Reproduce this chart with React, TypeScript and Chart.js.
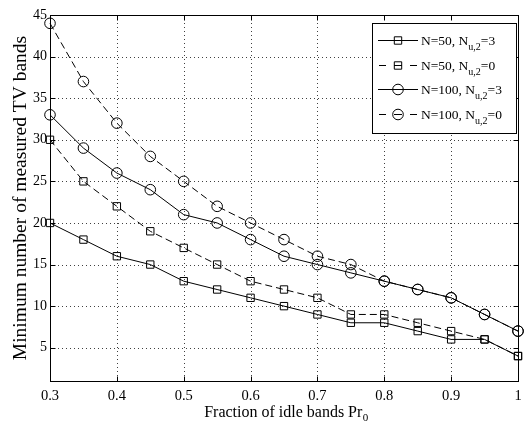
import React, { useEffect, useRef } from "react";
import { Chart, registerables } from "chart.js";

Chart.register(...registerables);

const xValues = [0.3, 0.35, 0.4, 0.45, 0.5, 0.55, 0.6, 0.65, 0.7, 0.75, 0.8, 0.85, 0.9, 0.95, 1];
const n50u3 = [20, 18, 16, 15, 13, 12, 11, 10, 9, 8, 8, 7, 6, 6, 4];
const n50u0 = [30, 25, 22, 19, 17, 15, 13, 12, 11, 9, 9, 8, 7, 6, 4];
const n100u3 = [33, 29, 26, 24, 21, 20, 18, 16, 15, 14, 13, 12, 11, 9, 7];
const n100u0 = [44, 37, 32, 28, 25, 22, 20, 18, 16, 15, 13, 12, 11, 9, 7];

const xTicks = [0.3, 0.4, 0.5, 0.6, 0.7, 0.8, 0.9, 1];
const yTicks = [5, 10, 15, 20, 25, 30, 35, 40, 45];

const seriesMain = ["N=50, N", "N=50, N", "N=100, N", "N=100, N"];
const seriesSub = ["u,2", "u,2", "u,2", "u,2"];
const seriesTail = ["=3", "=0", "=3", "=0"];
const seriesStyle = ["rect", "rect", "circle", "circle"];
const seriesDashed = [false, true, false, true];

const xTitle = "Fraction of idle bands Pr";
const xTitleSub = "0";
const yTitle = "Minimum number of measured TV bands";

const FONT = "'Liberation Serif', 'Times New Roman', serif";
const DASH = [7, 4];

function drawMarker(ctx: CanvasRenderingContext2D, style: string, x: number, y: number) {
  ctx.beginPath();
  if (style === "rect") {
    ctx.rect(x - 3.7, y - 3.7, 7.4, 7.4);
  } else {
    ctx.arc(x, y, 5.3, 0, Math.PI * 2);
  }
  ctx.stroke();
}

const framePlugin = {
  id: "frame",
  beforeDraw(chart: any) {
    const ctx = chart.ctx;
    ctx.save();
    ctx.fillStyle = "#fff";
    ctx.fillRect(0, 0, chart.width, chart.height);
    ctx.restore();
  },
  beforeDatasetsDraw(chart: any) {
    const { ctx, chartArea: a, scales } = chart;
    ctx.save();
    ctx.strokeStyle = "rgba(0,0,0,0.75)";
    ctx.lineWidth = 1;
    ctx.setLineDash([1, 3]);
    xTicks.forEach((v) => {
      const px = Math.round(scales.x.getPixelForValue(v)) + 0.5;
      ctx.beginPath();
      ctx.moveTo(px, a.top);
      ctx.lineTo(px, a.bottom);
      ctx.stroke();
    });
    yTicks.forEach((v) => {
      const py = Math.round(scales.y.getPixelForValue(v)) + 0.5;
      ctx.beginPath();
      ctx.moveTo(a.left, py);
      ctx.lineTo(a.right, py);
      ctx.stroke();
    });
    ctx.restore();
  },
  afterDraw(chart: any) {
    const { ctx, chartArea: a, scales } = chart;
    ctx.save();
    ctx.strokeStyle = "#000";
    ctx.lineWidth = 1;
    ctx.setLineDash([]);
    const L = Math.round(a.left) + 0.5;
    const R = Math.round(a.right) + 0.5;
    const T = Math.round(a.top) + 0.5;
    const B = Math.round(a.bottom) + 0.5;
    ctx.strokeRect(L, T, R - L, B - T);
    const tl = 5;
    xTicks.forEach((v) => {
      const px = Math.round(scales.x.getPixelForValue(v)) + 0.5;
      ctx.beginPath();
      ctx.moveTo(px, B);
      ctx.lineTo(px, B - tl);
      ctx.moveTo(px, T);
      ctx.lineTo(px, T + tl);
      ctx.stroke();
    });
    yTicks.forEach((v) => {
      const py = Math.round(scales.y.getPixelForValue(v)) + 0.5;
      ctx.beginPath();
      ctx.moveTo(L, py);
      ctx.lineTo(L + tl, py);
      ctx.moveTo(R, py);
      ctx.lineTo(R - tl, py);
      ctx.stroke();
    });

    // x title with subscript
    ctx.fillStyle = "#000";
    ctx.textBaseline = "alphabetic";
    ctx.textAlign = "left";
    ctx.font = `16px ${FONT}`;
    const w1 = ctx.measureText(xTitle).width;
    ctx.font = `11px ${FONT}`;
    const w2 = ctx.measureText(xTitleSub).width;
    const cx = (a.left + a.right) / 2 + 2;
    let sx = cx - (w1 + w2) / 2;
    ctx.font = `16px ${FONT}`;
    ctx.fillText(xTitle, sx, 417);
    ctx.font = `11px ${FONT}`;
    ctx.fillText(xTitleSub, sx + w1 + 0.5, 421);

    // y title
    ctx.save();
    ctx.translate(26, (a.top + a.bottom) / 2);
    ctx.rotate(-Math.PI / 2);
    ctx.font = `19.5px ${FONT}`;
    ctx.textAlign = "center";
    ctx.fillText(yTitle, 0, 0);
    ctx.restore();

    // legend
    const lx = 372.5, ly = 23.5, lw = 144, lh = 110;
    ctx.fillStyle = "#fff";
    ctx.fillRect(lx, ly, lw, lh);
    ctx.strokeStyle = "#000";
    ctx.strokeRect(lx, ly, lw, lh);
    for (let i = 0; i < 4; i++) {
      const yy = Math.round(40 + i * 24.7) + 0.5;
      ctx.beginPath();
      if (seriesDashed[i]) {
        ctx.moveTo(379, yy); ctx.lineTo(386, yy);
        ctx.moveTo(394, yy); ctx.lineTo(402, yy);
        ctx.moveTo(410, yy); ctx.lineTo(417, yy);
      } else {
        ctx.moveTo(378, yy); ctx.lineTo(418, yy);
      }
      ctx.stroke();
      drawMarker(ctx, seriesStyle[i], 398, yy);
      ctx.fillStyle = "#000";
      ctx.textAlign = "left";
      ctx.font = `13.5px ${FONT}`;
      let tx = 421;
      const ty = yy + 4.5;
      ctx.fillText(seriesMain[i], tx, ty);
      tx += ctx.measureText(seriesMain[i]).width;
      ctx.font = `10px ${FONT}`;
      ctx.fillText(seriesSub[i], tx, ty + 5);
      tx += ctx.measureText(seriesSub[i]).width;
      ctx.font = `13.5px ${FONT}`;
      ctx.fillText(seriesTail[i], tx, ty);
    }
    ctx.restore();
  },
};

function mk(label: string, values: number[], style: string, dashed: boolean) {
  return {
    label,
    data: xValues.map((x, i) => ({ x, y: values[i] })),
    borderColor: "#000",
    backgroundColor: "transparent",
    borderWidth: 1,
    borderDash: dashed ? DASH : [],
    pointStyle: style,
    pointRadius: style === "rect" ? 5.2 : 5.3,
    pointBorderWidth: 1,
    pointBorderColor: "#000",
    pointBackgroundColor: "transparent",
    tension: 0,
    clip: false,
  };
}

export default function App() {
  const ref = useRef<HTMLCanvasElement | null>(null);
  useEffect(() => {
    if (!ref.current) return;
    const chart = new Chart(ref.current, {
      type: "line",
      data: {
        datasets: [
          mk("N=50, Nu,2=3", n50u3, seriesStyle[0], seriesDashed[0]),
          mk("N=50, Nu,2=0", n50u0, seriesStyle[1], seriesDashed[1]),
          mk("N=100, Nu,2=3", n100u3, seriesStyle[2], seriesDashed[2]),
          mk("N=100, Nu,2=0", n100u0, seriesStyle[3], seriesDashed[3]),
        ],
      },
      options: {
        responsive: false,
        animation: false,
        events: [],
        layout: { padding: { left: 0, right: 14, top: 15, bottom: 0 } },
        plugins: { legend: { display: false }, tooltip: { enabled: false }, title: { display: false } },
        scales: {
          x: {
            type: "linear",
            min: 0.3,
            max: 1,
            grid: { display: false, drawTicks: false },
            border: { display: false },
            afterBuildTicks: (s: any) => { s.ticks = xTicks.map((v) => ({ value: v })); },
            afterFit: (s: any) => { s.height = 46; },
            ticks: {
              autoSkip: false,
              maxRotation: 0,
              padding: 6,
              color: "#000",
              font: { family: FONT, size: 14.5 },
              callback: (v: any) => String(Number(Number(v).toFixed(2))),
            },
          },
          y: {
            type: "linear",
            min: 1,
            max: 45,
            grid: { display: false, drawTicks: false },
            border: { display: false },
            afterBuildTicks: (s: any) => { s.ticks = yTicks.map((v) => ({ value: v })); },
            afterFit: (s: any) => { s.width = 50; },
            ticks: {
              autoSkip: false,
              padding: 3,
              color: "#000",
              font: { family: FONT, size: 14 },
            },
          },
        },
      },
      plugins: [framePlugin],
    } as any);
    return () => chart.destroy();
  }, []);
  return (
    <div style={{ position: "fixed", left: 0, top: 0, width: 532, height: 427, background: "#fff" }}>
      <canvas ref={ref} width={532} height={427} style={{ display: "block", width: 532, height: 427 }} />
    </div>
  );
}
